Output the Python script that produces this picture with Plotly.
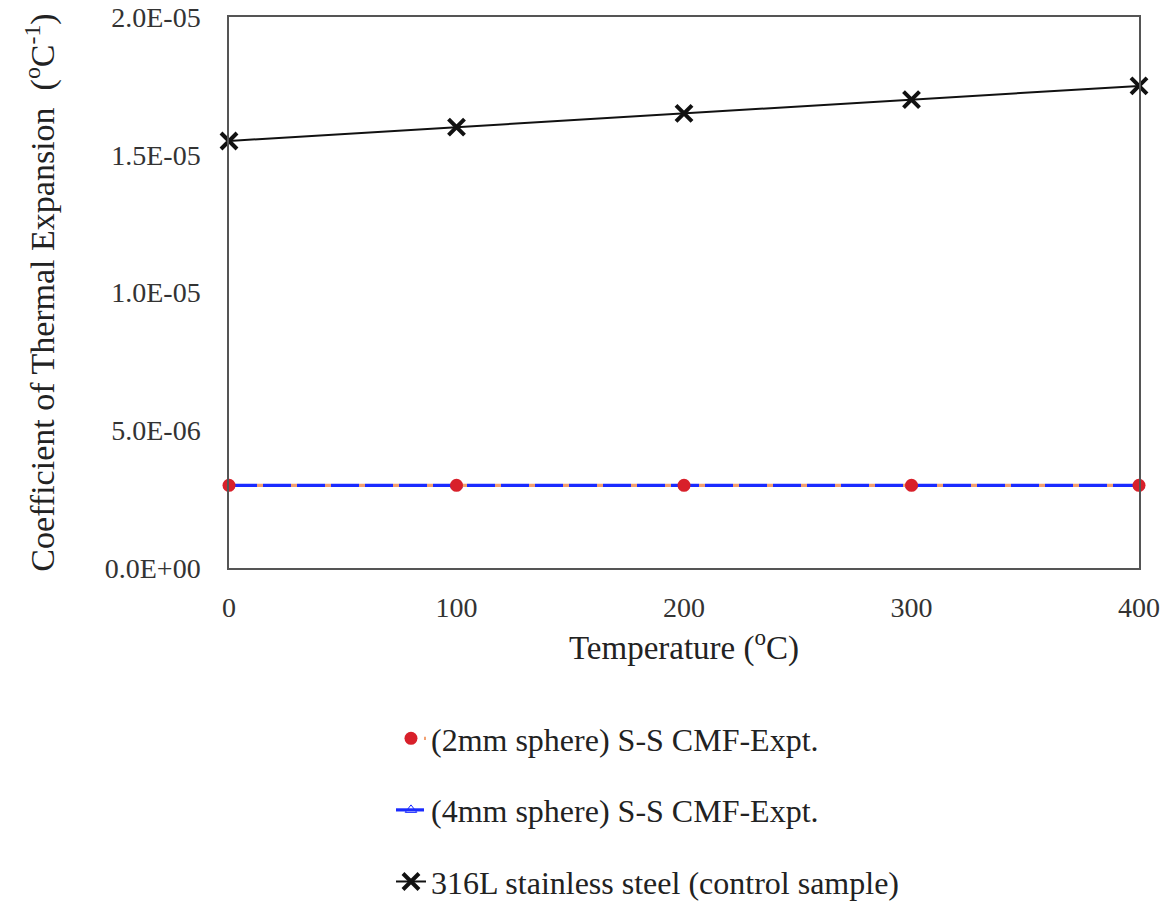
import plotly.graph_objects as go

temperature = [0, 100, 200, 300, 400]
cte_2mm = [3.0e-6, 3.0e-6, 3.0e-6, 3.0e-6, 3.0e-6]
cte_4mm = [3.0e-6, 3.0e-6, 3.0e-6, 3.0e-6, 3.0e-6]
cte_316l = [1.55e-5, 1.60e-5, 1.65e-5, 1.70e-5, 1.75e-5]

y_tickvals = [0, 5e-6, 1e-5, 1.5e-5, 2e-5]
y_ticktext = ["0.0E+00", "5.0E-06", "1.0E-05", "1.5E-05", "2.0E-05"]
x_tickvals = [0, 100, 200, 300, 400]

names = ["(2mm sphere) S-S CMF-Expt.", "(4mm sphere) S-S CMF-Expt.", "316L stainless steel (control sample)"]

fig = go.Figure()
fig.add_trace(go.Scatter(
    x=temperature, y=cte_4mm, name=names[1], mode="lines+markers",
    line=dict(color="#1a2bff", width=3.2, dash="28px,6px"),
    marker=dict(symbol="triangle-up-open", size=10, color="#1a2bff"),
    legendgroup="b", legendrank=2, cliponaxis=False,
))
fig.add_trace(go.Scatter(
    x=temperature, y=cte_2mm, name=names[0], mode="lines+markers",
    line=dict(color="#f2a070", width=3.2, dash="0px,28px,6px,0px"),
    marker=dict(symbol="circle", size=13, color="#d8202a"),
    legendgroup="a", legendrank=1, cliponaxis=False,
))
fig.add_trace(go.Scatter(
    x=temperature, y=cte_316l, name=names[2], mode="lines+markers",
    line=dict(color="#111111", width=2),
    marker=dict(symbol="x-thin", size=16, line=dict(width=4, color="#111111"), color="#111111"),
    legendgroup="c", legendrank=3, cliponaxis=False,
))

fig.update_layout(
    width=1161, height=924,
    margin=dict(l=229, r=22, t=17, b=356),
    paper_bgcolor="white", plot_bgcolor="white",
    font=dict(family="Liberation Serif", color="#333333", size=28),
    showlegend=True,
    legend=dict(
        x=0.178, y=-0.2595, xanchor="left", yanchor="top",
        traceorder="grouped", tracegroupgap=27,
        font=dict(family="Liberation Serif", size=32, color="#222222"),
        itemwidth=30, bgcolor="rgba(0,0,0,0)",
    ),
    annotations=[dict(
        text="Temperature (<sup>o</sup>C)", xref="paper", yref="paper",
        x=0.5, y=-0.141, xanchor="center", yanchor="middle", showarrow=False,
        font=dict(family="Liberation Serif", size=33, color="#222222"),
    )],
)
fig.update_xaxes(
    range=[0, 400], tickvals=x_tickvals, showgrid=False, zeroline=False,
    showline=True, linecolor="#555555", linewidth=1.5, mirror=True,
    ticks="", ticklabelstandoff=14, automargin=False,
)
fig.update_yaxes(
    range=[0, 2e-5], tickvals=y_tickvals, ticktext=y_ticktext, showgrid=False, zeroline=False,
    showline=True, linecolor="#555555", linewidth=1.5, mirror=True,
    ticks="", ticklabelstandoff=21, automargin=False,
    title=dict(text="Coefficient of Thermal Expansion  (<sup>o</sup>C<sup>-1</sup>)", font=dict(size=34, color="#222222"), standoff=40),
)

fig.write_html("out.html")
